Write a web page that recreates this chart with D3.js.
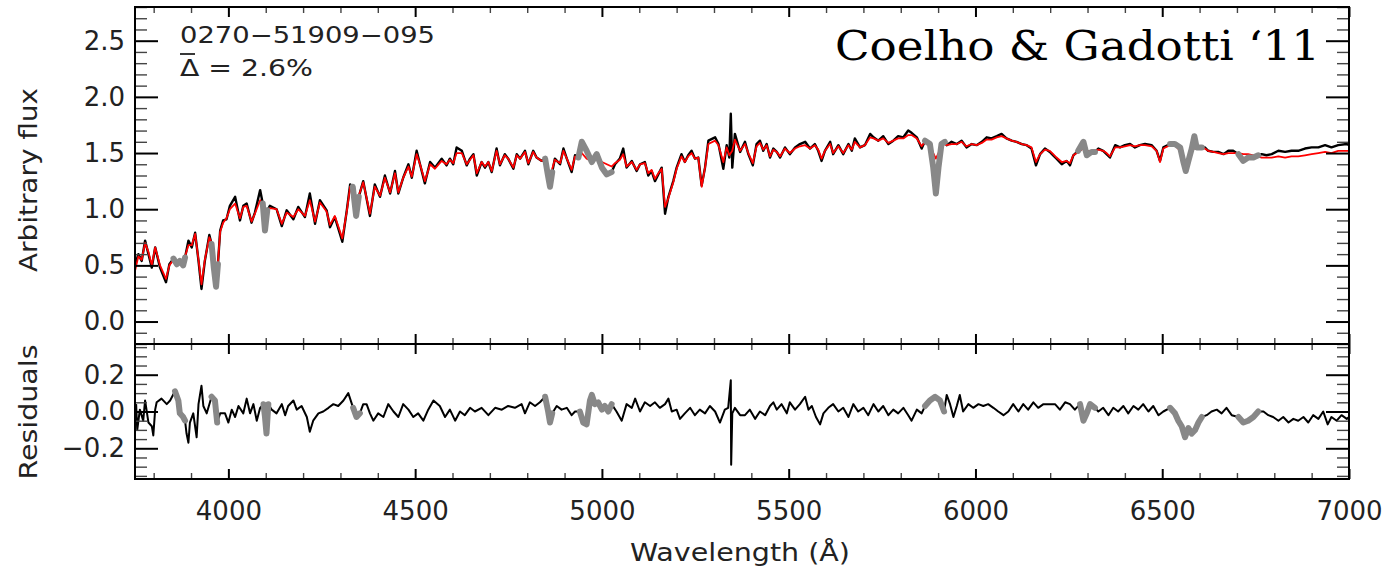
<!DOCTYPE html>
<html><head><meta charset="utf-8">
<script src="https://cdn.jsdelivr.net/npm/d3@7"></script>
<style>body{margin:0;background:#fff}svg{display:block}</style>
</head><body>
<svg id="c" width="1389" height="572"></svg>
<script>
// ---- data ----
const wave = [3750,3759,3768,3777,3786,3795,3804,3817,3833,3842,3853,3862,3870,3879,3884,3893,3902,3911,3920,3928,3937,3949,3955,3961,3967,3972,3978,3986,3995,4004,4018,4031,4040,4049,4062,4071,4085,4092,4098,4104,4111,4129,4143,4156,4174,4187,4205,4218,4232,4245,4263,4272,4285,4305,4317,4326,4333,4342,4349,4361,4379,4392,4406,4419,4433,4446,4455,4468,4482,4491,4504,4513,4526,4540,4553,4571,4584,4593,4602,4611,4625,4638,4647,4656,4665,4678,4687,4696,4705,4718,4727,4740,4749,4763,4772,4781,4794,4803,4816,4825,4839,4848,4855,4861,4867,4874,4888,4897,4906,4919,4928,4937,4946,4959,4973,4986,5000,5013,5026,5035,5048,5057,5066,5080,5093,5102,5115,5124,5133,5142,5151,5160,5169,5178,5191,5200,5213,5222,5231,5240,5249,5258,5267,5276,5285,5303,5312,5325,5334,5341,5345,5349,5356,5370,5383,5392,5404,5414,5423,5432,5441,5450,5459,5468,5477,5490,5503,5517,5530,5544,5557,5570,5579,5588,5597,5611,5619,5633,5646,5660,5669,5677,5691,5704,5718,5727,5740,5753,5767,5780,5793,5807,5820,5829,5843,5856,5865,5878,5887,5894,5901,5909,5918,5923,5936,5950,5963,5976,5990,6003,6017,6030,6043,6057,6070,6083,6097,6110,6124,6137,6150,6162,6173,6186,6199,6208,6217,6231,6244,6253,6262,6275,6289,6298,6311,6320,6329,6342,6351,6360,6374,6387,6400,6414,6427,6440,6454,6472,6485,6494,6503,6521,6534,6548,6556,6563,6570,6579,6586,6592,6606,6614,6623,6637,6650,6664,6677,6690,6704,6717,6730,6744,6757,6766,6779,6793,6811,6829,6846,6864,6882,6900,6918,6936,6953,6971,6994,7000];
const flux = [0.50,0.60,0.54,0.72,0.60,0.48,0.66,0.48,0.35,0.51,0.56,0.51,0.54,0.50,0.57,0.72,0.66,0.79,0.54,0.29,0.54,0.77,0.69,0.48,0.31,0.51,0.81,0.90,0.91,1.03,1.11,0.90,1.03,1.05,0.88,0.97,1.17,1.05,0.81,0.99,1.03,1.00,0.85,0.99,0.91,1.02,0.93,1.14,0.87,1.08,0.99,0.84,0.93,0.71,0.99,1.22,1.20,0.94,1.11,1.25,0.94,1.22,1.11,1.30,1.14,1.34,1.14,1.28,1.40,1.28,1.52,1.40,1.23,1.42,1.37,1.45,1.39,1.45,1.40,1.55,1.52,1.39,1.45,1.49,1.30,1.42,1.37,1.42,1.33,1.54,1.39,1.49,1.45,1.36,1.49,1.45,1.52,1.40,1.52,1.46,1.43,1.45,1.31,1.20,1.33,1.45,1.40,1.54,1.45,1.33,1.48,1.46,1.60,1.52,1.42,1.49,1.37,1.31,1.33,1.40,1.45,1.54,1.37,1.43,1.34,1.40,1.42,1.30,1.34,1.25,1.31,1.37,0.96,1.11,1.25,1.37,1.49,1.42,1.48,1.52,1.45,1.46,1.21,1.37,1.61,1.64,1.58,1.36,1.57,1.46,1.85,1.37,1.67,1.51,1.60,1.49,1.39,1.58,1.61,1.52,1.58,1.46,1.54,1.51,1.46,1.55,1.49,1.55,1.58,1.60,1.54,1.58,1.52,1.43,1.52,1.60,1.49,1.57,1.49,1.58,1.52,1.63,1.55,1.57,1.67,1.64,1.61,1.65,1.58,1.61,1.65,1.64,1.70,1.68,1.64,1.54,1.61,1.58,1.37,1.14,1.37,1.58,1.60,1.57,1.60,1.58,1.61,1.55,1.58,1.57,1.60,1.64,1.63,1.65,1.67,1.63,1.61,1.60,1.58,1.57,1.54,1.39,1.49,1.54,1.51,1.48,1.45,1.40,1.43,1.39,1.48,1.52,1.60,1.48,1.51,1.51,1.54,1.52,1.49,1.46,1.57,1.55,1.57,1.58,1.55,1.57,1.58,1.57,1.52,1.43,1.55,1.58,1.58,1.55,1.43,1.34,1.43,1.54,1.65,1.55,1.55,1.55,1.52,1.51,1.51,1.49,1.52,1.52,1.49,1.43,1.46,1.46,1.48,1.49,1.48,1.49,1.52,1.51,1.52,1.52,1.54,1.55,1.55,1.57,1.55,1.57,1.58,1.57];
const model = [0.45,0.58,0.55,0.70,0.62,0.50,0.66,0.50,0.38,0.50,0.55,0.53,0.53,0.52,0.58,0.68,0.68,0.78,0.55,0.33,0.55,0.75,0.70,0.50,0.35,0.52,0.80,0.88,0.92,1.00,1.05,0.92,1.02,1.03,0.89,0.96,1.08,1.02,0.90,0.98,1.01,1.00,0.87,0.97,0.93,1.00,0.94,1.08,0.89,1.06,0.98,0.86,0.94,0.74,0.98,1.20,1.18,1.05,1.12,1.24,0.96,1.20,1.12,1.28,1.15,1.32,1.15,1.28,1.38,1.29,1.49,1.40,1.25,1.40,1.36,1.43,1.40,1.44,1.41,1.50,1.50,1.40,1.44,1.48,1.32,1.42,1.38,1.42,1.34,1.52,1.40,1.48,1.45,1.37,1.48,1.45,1.51,1.41,1.51,1.46,1.43,1.44,1.36,1.30,1.36,1.44,1.41,1.52,1.45,1.35,1.47,1.45,1.50,1.45,1.43,1.44,1.42,1.40,1.38,1.41,1.44,1.49,1.38,1.42,1.35,1.40,1.41,1.32,1.35,1.27,1.32,1.36,1.02,1.10,1.24,1.36,1.47,1.42,1.47,1.50,1.45,1.46,1.20,1.37,1.58,1.61,1.57,1.42,1.55,1.48,1.50,1.52,1.62,1.52,1.58,1.50,1.41,1.56,1.59,1.53,1.57,1.47,1.53,1.51,1.47,1.54,1.50,1.54,1.56,1.57,1.54,1.57,1.53,1.45,1.52,1.58,1.50,1.56,1.50,1.57,1.53,1.60,1.55,1.57,1.64,1.63,1.61,1.63,1.59,1.61,1.63,1.63,1.66,1.66,1.63,1.56,1.60,1.57,1.50,1.45,1.50,1.57,1.58,1.57,1.58,1.58,1.60,1.56,1.58,1.57,1.59,1.62,1.62,1.64,1.65,1.63,1.61,1.60,1.58,1.57,1.55,1.42,1.49,1.53,1.52,1.49,1.46,1.42,1.43,1.41,1.48,1.51,1.54,1.52,1.52,1.52,1.53,1.52,1.50,1.47,1.55,1.55,1.56,1.57,1.56,1.57,1.57,1.56,1.52,1.42,1.54,1.57,1.57,1.52,1.45,1.40,1.47,1.53,1.54,1.54,1.54,1.54,1.52,1.51,1.50,1.49,1.50,1.50,1.50,1.49,1.49,1.48,1.47,1.46,1.46,1.46,1.47,1.46,1.47,1.47,1.48,1.49,1.50,1.51,1.50,1.52,1.52,1.52];

const resWave = [3753,3756,3763,3772,3777,3786,3795,3799,3804,3808,3821,3835,3844,3857,3866,3870,3879,3884,3888,3893,3897,3906,3915,3920,3928,3933,3942,3955,3964,3970,3978,3991,4000,4009,4018,4027,4040,4049,4058,4067,4076,4085,4094,4098,4102,4107,4116,4129,4143,4152,4160,4174,4183,4196,4210,4218,4227,4241,4254,4268,4281,4294,4308,4321,4334,4343,4352,4361,4370,4379,4388,4401,4415,4428,4442,4455,4468,4482,4495,4508,4522,4535,4549,4566,4580,4593,4607,4620,4633,4647,4660,4678,4696,4714,4732,4749,4767,4785,4794,4807,4821,4834,4848,4856,4861,4867,4879,4892,4906,4919,4928,4941,4950,4959,4968,4973,4981,4990,5000,5008,5017,5026,5039,5053,5066,5080,5089,5102,5115,5129,5142,5155,5169,5178,5187,5200,5209,5222,5236,5249,5262,5276,5289,5303,5316,5329,5338,5345,5346,5349,5356,5370,5383,5396,5410,5423,5437,5450,5459,5468,5481,5495,5503,5517,5530,5544,5553,5562,5573,5584,5593,5606,5619,5633,5646,5660,5673,5686,5700,5713,5727,5740,5753,5767,5780,5793,5807,5820,5829,5843,5856,5865,5878,5892,5905,5916,5923,5932,5941,5950,5958,5967,5981,5994,6008,6021,6034,6048,6061,6075,6088,6101,6115,6128,6141,6155,6168,6182,6200,6213,6226,6240,6253,6266,6280,6289,6298,6307,6320,6329,6342,6356,6369,6382,6396,6409,6423,6436,6449,6463,6476,6490,6503,6521,6534,6543,6552,6561,6570,6579,6588,6597,6606,6619,6632,6646,6659,6672,6686,6704,6717,6730,6744,6757,6771,6784,6797,6811,6824,6838,6851,6864,6878,6891,6904,6918,6931,6943,6953,6967,6980,6994,7000];
const resid = [0.04,-0.10,0.01,-0.05,0.06,-0.06,-0.08,-0.13,0.01,0.05,0.07,0.04,0.06,0.11,0.06,-0.01,-0.03,-0.05,-0.12,-0.17,-0.06,-0.01,-0.14,0.04,0.14,0.03,-0.01,0.08,0.06,-0.06,-0.01,-0.01,-0.06,0.01,-0.03,0.03,-0.01,0.07,-0.01,0.04,-0.05,0.02,0.04,-0.03,-0.12,0.04,0.01,-0.01,0.04,-0.02,0.03,0.06,0.01,0.03,-0.03,-0.11,-0.05,-0.01,0.00,0.02,0.04,0.03,0.06,0.10,0.02,-0.03,-0.01,0.04,0.04,-0.01,-0.05,-0.01,-0.03,0.04,0.00,-0.03,0.04,0.01,-0.03,-0.01,-0.05,0.01,0.06,0.03,-0.03,0.01,-0.05,0.00,-0.02,0.02,0.00,0.02,-0.02,0.02,0.01,0.03,0.02,0.04,-0.01,0.05,0.03,0.05,0.08,0.00,-0.06,-0.01,0.03,0.01,0.02,-0.02,0.00,0.00,-0.06,-0.07,0.06,0.09,0.04,0.05,0.01,0.03,0.00,0.04,0.00,-0.05,0.04,0.02,0.07,0.00,0.05,0.03,0.05,0.02,0.04,0.07,0.00,0.01,-0.04,-0.01,0.02,-0.02,0.01,-0.01,0.03,0.00,-0.06,0.01,0.02,0.17,-0.29,-0.01,0.02,-0.02,-0.02,0.01,-0.04,0.00,-0.02,0.03,0.05,0.01,0.04,-0.01,0.05,0.01,0.04,0.08,0.01,0.03,-0.03,-0.07,-0.01,0.02,0.04,0.00,0.02,-0.03,0.04,0.00,0.02,-0.02,0.04,0.00,0.03,-0.02,0.01,-0.01,0.02,-0.02,-0.05,0.01,-0.01,0.03,0.06,0.08,0.06,0.00,0.09,0.04,-0.03,0.03,0.09,0.00,0.04,0.02,0.04,0.03,0.04,0.02,0.00,-0.02,0.00,0.04,0.00,0.04,0.01,0.05,0.02,0.04,0.04,0.04,0.01,0.05,0.04,0.01,0.04,-0.05,-0.01,0.04,0.02,0.00,0.02,-0.02,0.02,0.00,0.03,-0.01,0.03,0.01,0.04,0.00,0.03,-0.02,0.00,0.02,-0.01,-0.05,-0.08,-0.14,-0.09,-0.12,-0.10,-0.06,-0.03,-0.02,0.00,0.01,-0.01,0.02,-0.02,-0.03,-0.06,-0.05,-0.03,0.00,0.00,-0.02,-0.03,-0.05,-0.03,-0.06,-0.04,-0.05,-0.03,-0.06,-0.02,-0.04,0.00,-0.07,-0.03,-0.05,-0.02,-0.04,-0.03];

const maskStart = [3848,3955,4089,4327,4846,4937,5860,6271,6514,6697];
const maskEnd   = [3884,3977,4107,4354,4873,5028,5918,6322,6607,6759];

const xMajor = [4000,4500,5000,5500,6000,6500,7000];
const fluxMajor = [0.0,0.5,1.0,1.5,2.0,2.5];
const resMajor = [-0.2,0.0,0.2];

const objectId = "0270\u221251909\u2212095";
const deltaText = "\u0394 = 2.6%";
const credit = "Coelho & Gadotti \u201811";

// ---- layout ----
const L=135, R=1349, T=7, MID=344, B=479;
const svg = d3.select("#c");
const x = d3.scaleLinear().domain([3750,7000]).range([L,R]);
const yF = d3.scaleLinear().domain([-0.2,2.8]).range([MID,T]);
const yR = d3.scaleLinear().domain([-0.367,0.367]).range([B,MID]);

const defs = svg.append("defs");
defs.append("clipPath").attr("id","cTop").append("rect").attr("x",L).attr("y",T).attr("width",R-L).attr("height",MID-T);
defs.append("clipPath").attr("id","cRes").append("rect").attr("x",L).attr("y",MID).attr("width",R-L).attr("height",B-MID);

const fluxPts = wave.map((w,i)=>[w,flux[i]]);
const modelPts = wave.map((w,i)=>[w,model[i]]);
const resPts = resWave.map((w,i)=>[w,resid[i]]);
const inMask = (w,k)=> w>=maskStart[k] && w<=maskEnd[k];

const lineF = d3.line().x(d=>x(d[0])).y(d=>yF(d[1]));
const lineR = d3.line().x(d=>x(d[0])).y(d=>yR(d[1]));

const gTop = svg.append("g").attr("clip-path","url(#cTop)");
gTop.append("path").attr("d",lineF(fluxPts)).attr("fill","none").attr("stroke","#000").attr("stroke-width",2.4).attr("stroke-linejoin","round");
gTop.append("path").attr("d",lineF(modelPts)).attr("fill","none").attr("stroke","#ff0000").attr("stroke-width",1.8).attr("stroke-linejoin","round");
maskStart.forEach((s,k)=>{
  const seg = fluxPts.filter(d=>inMask(d[0],k));
  gTop.append("path").attr("d",lineF(seg)).attr("fill","none").attr("stroke","#888").attr("stroke-width",6).attr("stroke-linecap","round").attr("stroke-linejoin","round");
});

const gRes = svg.append("g").attr("clip-path","url(#cRes)");
gRes.append("path").attr("d",lineR(resPts)).attr("fill","none").attr("stroke","#000").attr("stroke-width",2).attr("stroke-linejoin","round");
maskStart.forEach((s,k)=>{
  const seg = resPts.filter(d=>inMask(d[0],k));
  gRes.append("path").attr("d",lineR(seg)).attr("fill","none").attr("stroke","#888").attr("stroke-width",6).attr("stroke-linecap","round").attr("stroke-linejoin","round");
});

// ---- axes ----
const fmt = d => (d<0?"\u2212":"")+Math.abs(d).toFixed(1);
const tickFont = "'DejaVu Sans', sans-serif";
function styleAxis(g, major){
  g.select(".domain").remove();
  g.selectAll(".tick line").attr("stroke", major?"#000":"#444").attr("stroke-width", major?2:1.4);
  g.selectAll(".tick text").attr("font-family",tickFont).attr("font-size",26).attr("fill","#222");
}
function range(a,b,s){const o=[];for(let v=a;v<=b+1e-9;v+=s)o.push(+v.toFixed(3));return o;}
const xMinor = range(3800,7000,100).filter(v=>xMajor.indexOf(v)<0);
const fMinor = range(-0.2,2.8,0.1).filter(v=>!fluxMajor.some(m=>Math.abs(m-v)<1e-6));
const rMinor = range(-0.35,0.35,0.05).filter(v=>!resMajor.some(m=>Math.abs(m-v)<1e-6));

[[T,"down"],[MID,"up"],[MID,"down"],[B,"up"]].forEach(([yy,dir],i)=>{
  const sgn = dir==="down"?1:-1;
  const last = i===3;
  const gM = svg.append("g").attr("transform",`translate(0,${yy})`)
    .call(d3.axisBottom(x).tickValues(xMajor).tickSize(10*sgn).tickPadding(0).tickFormat(last? d3.format("d"):""));
  styleAxis(gM,true);
  if(last) gM.selectAll(".tick text").attr("dy",null).attr("y",41);
  const gm = svg.append("g").attr("transform",`translate(0,${yy})`)
    .call(d3.axisBottom(x).tickValues(xMinor).tickSize(6*sgn).tickFormat(""));
  styleAxis(gm,false);
});
function yAxes(scale, majors, minors){
  const gL = svg.append("g").attr("transform",`translate(${L},0)`)
    .call(d3.axisLeft(scale).tickValues(majors).tickSize(-23).tickPadding(10).tickFormat(fmt));
  styleAxis(gL,true);
  const gl = svg.append("g").attr("transform",`translate(${L},0)`)
    .call(d3.axisLeft(scale).tickValues(minors).tickSize(-12).tickFormat(""));
  styleAxis(gl,false);
  const gRM = svg.append("g").attr("transform",`translate(${R},0)`)
    .call(d3.axisRight(scale).tickValues(majors).tickSize(-23).tickFormat(""));
  styleAxis(gRM,true);
  const grm = svg.append("g").attr("transform",`translate(${R},0)`)
    .call(d3.axisRight(scale).tickValues(minors).tickSize(-12).tickFormat(""));
  styleAxis(grm,false);
}
yAxes(yF, fluxMajor, fMinor);
yAxes(yR, resMajor, rMinor);

svg.append("rect").attr("x",L).attr("y",T).attr("width",R-L).attr("height",MID-T).attr("fill","none").attr("stroke","#000").attr("stroke-width",2);
svg.append("rect").attr("x",L).attr("y",MID).attr("width",R-L).attr("height",B-MID).attr("fill","none").attr("stroke","#000").attr("stroke-width",2);

svg.append("text").attr("x",740).attr("y",561).attr("text-anchor","middle")
  .attr("font-family",tickFont).attr("font-size",24).attr("fill","#222")
  .attr("textLength",220).attr("lengthAdjust","spacingAndGlyphs").text("Wavelength (\u00C5)");
svg.append("text").attr("transform","translate(37,180) rotate(-90)").attr("text-anchor","middle")
  .attr("font-family",tickFont).attr("font-size",24).attr("fill","#222")
  .attr("textLength",184).attr("lengthAdjust","spacingAndGlyphs").text("Arbitrary flux");
svg.append("text").attr("transform","translate(37,412) rotate(-90)").attr("text-anchor","middle")
  .attr("font-family",tickFont).attr("font-size",24).attr("fill","#222")
  .attr("textLength",135).attr("lengthAdjust","spacingAndGlyphs").text("Residuals");

svg.append("text").attr("x",180).attr("y",43).attr("font-family",tickFont).attr("font-size",23).attr("fill","#222")
  .attr("textLength",255).attr("lengthAdjust","spacingAndGlyphs").text(objectId);
svg.append("text").attr("x",180).attr("y",76).attr("font-family",tickFont).attr("font-size",23).attr("fill","#222")
  .attr("textLength",133).attr("lengthAdjust","spacingAndGlyphs").text(deltaText);
svg.append("line").attr("x1",180).attr("x2",195).attr("y1",54).attr("y2",54).attr("stroke","#222").attr("stroke-width",1.8);

svg.append("text").attr("x",835).attr("y",60).attr("font-family","'DejaVu Serif', serif").attr("font-size",41).attr("fill","#000")
  .attr("textLength",485).attr("lengthAdjust","spacingAndGlyphs").text(credit);
</script>
</body></html>
